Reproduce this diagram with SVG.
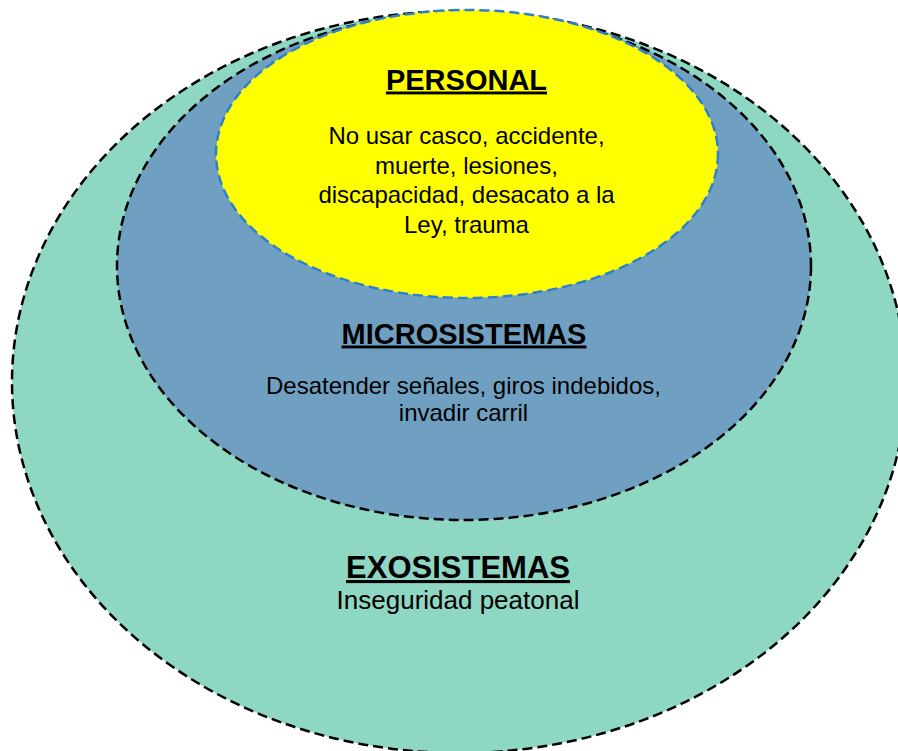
<svg xmlns="http://www.w3.org/2000/svg" width="898" height="751" viewBox="0 0 898 751">
<style>
.ring{stroke:#000;stroke-width:2.5;stroke-dasharray:10 5}
.t{font-family:"Liberation Sans",Arial,sans-serif;fill:#000;text-anchor:middle}
.h{font-weight:bold;text-decoration:underline}
.b{font-size:24px}
</style>
<rect width="898" height="751" fill="#fff"/>
<g id="exosistemas">
<ellipse class="ring" cx="459" cy="382" rx="447" ry="371" fill="#8ED7C2"/>
</g>
<g id="microsistemas">
<ellipse class="ring" cx="464" cy="266" rx="347" ry="254" fill="#6FA0C2"/>
</g>
<g id="personal">
<ellipse cx="467" cy="154" rx="251" ry="144" fill="#FFFF00" stroke="#2E80CC" stroke-width="2.5" stroke-dasharray="10 5"/>
</g>
<g id="personal-text">
<text class="t h" x="466.5" y="89.5" font-size="29">PERSONAL</text>
<text class="t b" x="466.5" y="144">No usar casco, accidente,</text>
<text class="t b" x="466.5" y="174">muerte, lesiones,</text>
<text class="t b" x="466.5" y="203">discapacidad, desacato a la</text>
<text class="t b" x="466.5" y="232.5">Ley, trauma</text>
</g>
<g id="microsistemas-text">
<text class="t h" x="464" y="343.5" font-size="29">MICROSISTEMAS</text>
<text class="t b" x="463.5" y="393.5">Desatender señales, giros indebidos,</text>
<text class="t b" x="463.5" y="420.5">invadir carril</text>
</g>
<g id="exosistemas-text">
<text class="t h" x="458" y="578" font-size="31">EXOSISTEMAS</text>
<text class="t" x="458" y="609" font-size="26">Inseguridad peatonal</text>
</g>
<g id="connectors"/>
</svg>
